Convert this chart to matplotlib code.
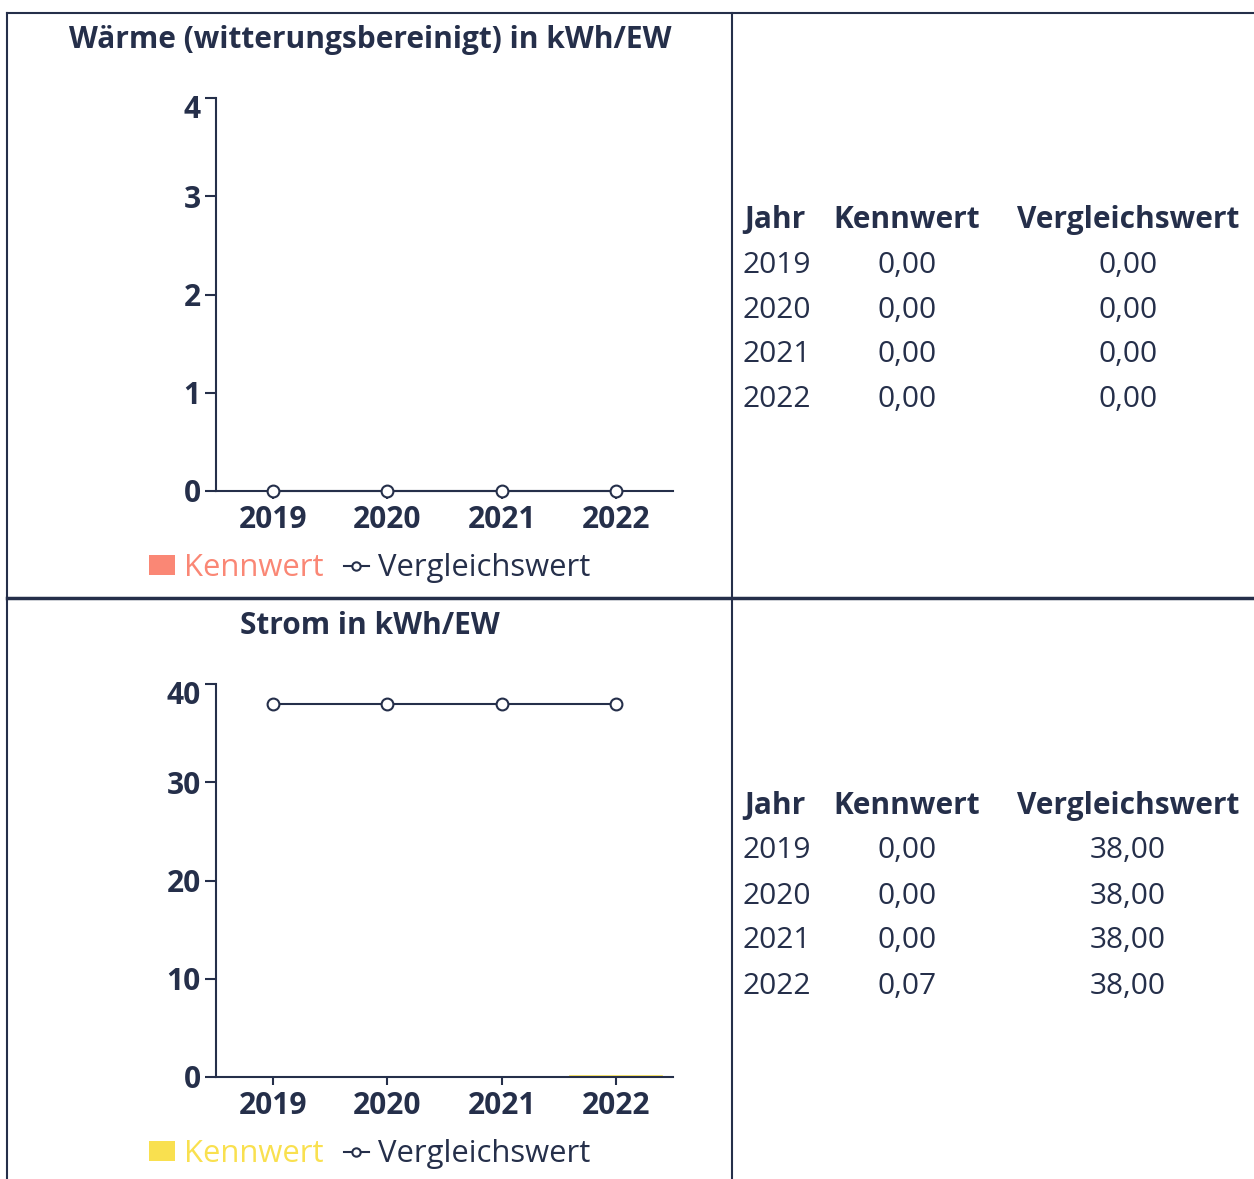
import matplotlib.pyplot as plt
from matplotlib.lines import Line2D
from matplotlib.patches import Patch
from matplotlib.transforms import ScaledTranslation

# =============================================================================
# DATA
# =============================================================================

YEARS = ["2019", "2020", "2021", "2022"]

WAERME_KENNWERT = [0.00, 0.00, 0.00, 0.00]
WAERME_VERGLEICH = [0.00, 0.00, 0.00, 0.00]

STROM_KENNWERT = [0.00, 0.00, 0.00, 0.07]
STROM_VERGLEICH = [38.00, 38.00, 38.00, 38.00]

TITLES = ["Wärme (witterungsbereinigt) in kWh/EW", "Strom in kWh/EW"]
TABLE_HEADER = ["Jahr", "Kennwert", "Vergleichswert"]

# =============================================================================
# STYLE
# =============================================================================

W, H = 1254, 1179
DARK = "#252f4a"
SALMON = "#fa8775"
YELLOW = "#f9e04f"
FS = 21.5

plt.rcParams["font.family"] = ["Open Sans", "DejaVu Sans"]


def fx(x):
    return x / W


def fy(y):
    return 1 - y / H


def fmt(v):
    return f"{v:.2f}".replace(".", ",")


fig = plt.figure(figsize=(W / 100, H / 100), dpi=100)


def draw_panel(top, title, kenn, vergl, ymax, yticks, bar_color):
    # chart area in pixels: x 216..673, y top+85 .. top+478
    ax_top = top + 85
    ax_bot = top + 478
    ax = fig.add_axes([fx(216), fy(ax_bot), fx(673) - fx(216), (ax_bot - ax_top) / H])
    x = range(len(YEARS))
    ax.bar(x, kenn, width=0.8, color=bar_color, edgecolor=bar_color,
           linewidth=[1.2 if v > 0 else 0 for v in kenn])
    ax.plot(x, vergl, color=DARK, lw=1.5, marker="o", ms=8.5,
            mfc="white", mec=DARK, mew=1.5, clip_on=False, zorder=5)
    ax.set_xlim(-0.5, 3.5)
    ax.set_ylim(0, ymax)
    ax.set_yticks(yticks)
    ax.set_xticks(list(x))
    ax.set_xticklabels(YEARS)
    for s in ["top", "right"]:
        ax.spines[s].set_visible(False)
    for s in ["left", "bottom"]:
        ax.spines[s].set_color(DARK)
        ax.spines[s].set_linewidth(1.5)
    ax.tick_params(axis="y", length=8, width=1.5, color=DARK, pad=3,
                   labelsize=FS, labelcolor=DARK)
    ax.tick_params(axis="x", length=6, width=1.5, color=DARK, pad=4,
                   labelsize=FS, labelcolor=DARK)
    for lab in ax.get_xticklabels() + ax.get_yticklabels():
        lab.set_fontweight("bold")
    # top label sits a little below its tick
    toplab = ax.get_yticklabels()[-1]
    toplab.set_transform(toplab.get_transform()
                         + ScaledTranslation(0, -8 / 100, fig.dpi_scale_trans))
    ax.patch.set_alpha(0)

    fig.text(fx(370), fy(top + 27), title, ha="center", va="center",
             fontsize=FS, fontweight="bold", color=DARK)

    handles = [
        Patch(facecolor=bar_color, edgecolor="none"),
        Line2D([0], [0], color=DARK, lw=1.5, marker="o", ms=6,
               mfc="white", mec=DARK, mew=1.5),
    ]
    leg = fig.legend(handles, ["Kennwert", "Vergleichswert"], ncol=2,
                     loc="center", bbox_to_anchor=(fx(370), fy(top + 555)),
                     frameon=False, fontsize=22.3, handlelength=0.82,
                     handleheight=0.6, handletextpad=0.3, columnspacing=0.65)
    leg.get_texts()[0].set_color(bar_color)
    leg.get_texts()[1].set_color(DARK)

    # table on the right
    ty = top + 207
    fig.text(fx(744), fy(ty), TABLE_HEADER[0], ha="left", va="center",
             fontsize=FS, fontweight="bold", color=DARK)
    fig.text(fx(907), fy(ty), TABLE_HEADER[1], ha="center", va="center",
             fontsize=FS, fontweight="bold", color=DARK)
    fig.text(fx(1128), fy(ty), TABLE_HEADER[2], ha="center", va="center",
             fontsize=FS, fontweight="bold", color=DARK)
    for i, yr in enumerate(YEARS):
        ry = ty + 45 * (i + 1)
        fig.text(fx(743), fy(ry), yr, ha="left", va="center",
                 fontsize=FS, color=DARK)
        fig.text(fx(907), fy(ry), fmt(kenn[i]), ha="center", va="center",
                 fontsize=FS, color=DARK)
        fig.text(fx(1128), fy(ry), fmt(vergl[i]), ha="center", va="center",
                 fontsize=FS, color=DARK)


draw_panel(13, TITLES[0], WAERME_KENNWERT, WAERME_VERGLEICH, 4, [0, 1, 2, 3, 4], SALMON)
draw_panel(599, TITLES[1], STROM_KENNWERT, STROM_VERGLEICH, 40, [0, 10, 20, 30, 40], YELLOW)

# grid frame lines
fig.add_artist(Line2D([fx(7), 1], [fy(13), fy(13)], color=DARK, lw=1.5))
fig.add_artist(Line2D([fx(7), fx(7)], [fy(13), 0], color=DARK, lw=1.5))
fig.add_artist(Line2D([fx(732), fx(732)], [fy(13), 0], color=DARK, lw=1.5))
fig.add_artist(Line2D([fx(7), 1], [fy(598), fy(598)], color=DARK, lw=2.5))

fig.savefig("out.png", dpi=100, facecolor="white")
